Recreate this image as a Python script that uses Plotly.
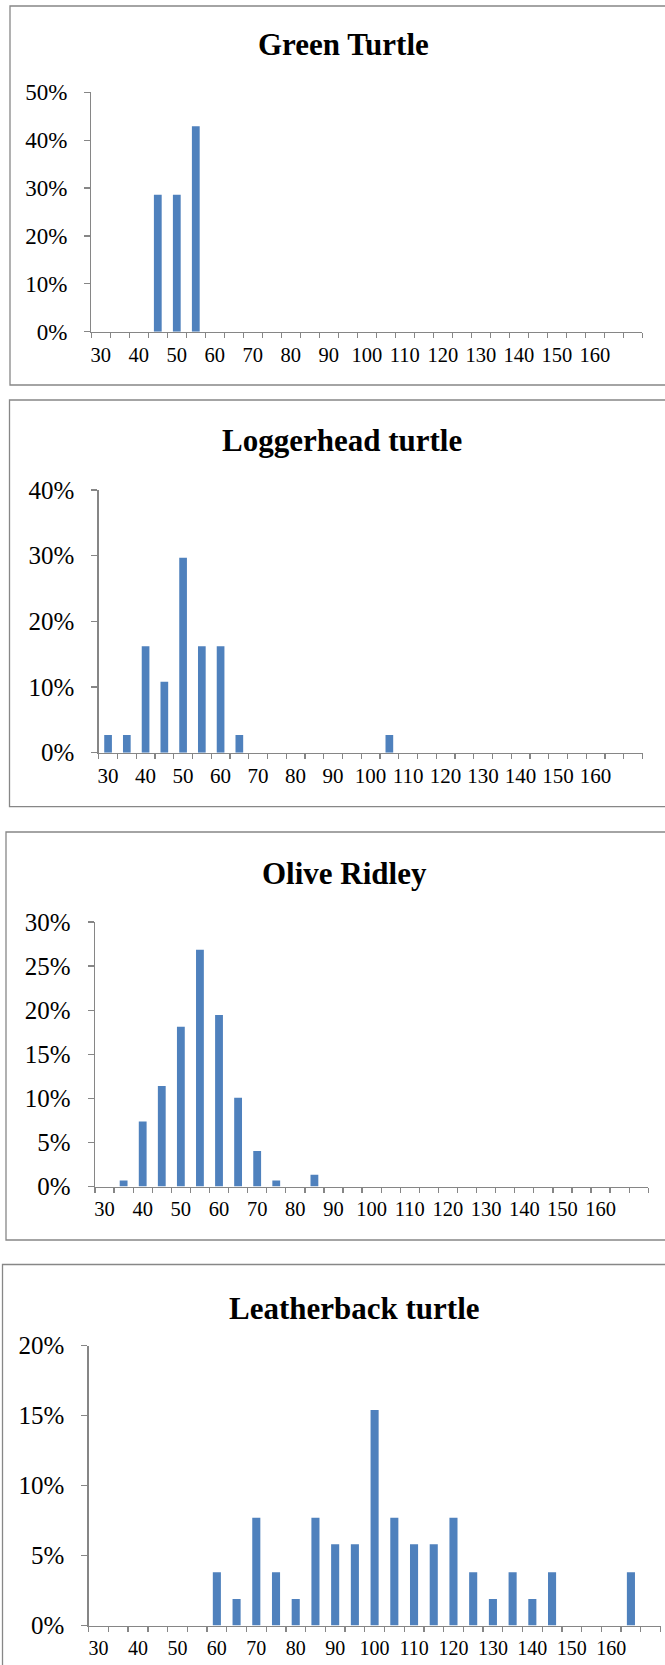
import plotly.graph_objects as go

W, H = 665, 1665

# Size classes (cm), one category every 5 cm
bins = [30, 35, 40, 45, 50, 55, 60, 65, 70, 75, 80, 85, 90, 95, 100, 105, 110,
        115, 120, 125, 130, 135, 140, 145, 150, 155, 160, 165, 170]
tick_labels = [30, 40, 50, 60, 70, 80, 90, 100, 110, 120, 130, 140, 150, 160]

green = [0, 0, 0, 0.286, 0.286, 0.429, 0, 0, 0, 0, 0, 0, 0, 0, 0, 0, 0,
         0, 0, 0, 0, 0, 0, 0, 0, 0, 0, 0, 0]
loggerhead = [0.027, 0.027, 0.162, 0.108, 0.297, 0.162, 0.162, 0.027, 0, 0, 0, 0, 0, 0, 0, 0.027, 0,
              0, 0, 0, 0, 0, 0, 0, 0, 0, 0, 0, 0]
olive = [0, 0.0067, 0.0738, 0.1141, 0.1812, 0.2685, 0.1946, 0.1007, 0.0403, 0.0067, 0, 0.0134, 0, 0, 0, 0, 0,
         0, 0, 0, 0, 0, 0, 0, 0, 0, 0, 0, 0]
leatherback = [0, 0, 0, 0, 0, 0, 0.038, 0.019, 0.077, 0.038, 0.019, 0.077, 0.058, 0.058, 0.154, 0.077, 0.058,
               0.058, 0.077, 0.038, 0.019, 0.038, 0.019, 0.038, 0, 0, 0, 0.038, 0]

titles = ["Green Turtle", "Loggerhead turtle", "Olive Ridley", "Leatherback turtle"]
series = [green, loggerhead, olive, leatherback]
y_max = [0.5, 0.4, 0.3, 0.2]
y_step = [0.1, 0.1, 0.05, 0.05]

# layout geometry in pixels: plot x0, x1, y_top, y_bottom ; box x0, y0, y1 ; title x, y ; fonts
plots = [(91.3, 642.3, 92.3, 331.7), (98.7, 642.5, 490, 752.7),
         (95, 648.3, 922, 1186.5), (88.7, 660.5, 1345.7, 1625.5)]
boxes = [(10, 6, 385), (9.5, 400, 806.7), (6, 832, 1240), (2.5, 1264.5, 1670)]
title_pos = [(343, 44), (342, 441), (344, 873), (354, 1308)]
ytick_size = [23, 25, 25, 25]
xtick_size = [20.5, 21, 20.5, 20]

BAR = "#4F81BD"
AXC = "#868686"
FONT = "Liberation Serif, Times New Roman, serif"

fig = go.Figure()
for i in range(4):
    xa = "x" if i == 0 else f"x{i+1}"
    ya = "y" if i == 0 else f"y{i+1}"
    fig.add_trace(go.Bar(x=bins, y=series[i], xaxis=xa, yaxis=ya, width=2.05,
                         marker=dict(color=BAR, line=dict(width=0)), showlegend=False))
    px0, px1, pyt, pyb = plots[i]
    xk = "xaxis" if i == 0 else f"xaxis{i+1}"
    yk = "yaxis" if i == 0 else f"yaxis{i+1}"
    fig.layout[xk] = dict(
        domain=[px0 / W, px1 / W], anchor=ya, range=[27.5, 172.5], automargin=False,
        tickmode="array", tickvals=tick_labels, ticktext=[str(t) for t in tick_labels],
        ticks="", showline=True, linecolor=AXC, linewidth=1.3, showgrid=False, zeroline=False,
        tickfont=dict(family=FONT, size=xtick_size[i], color="#000"),
        ticklabelstandoff=4,
        minor=dict(tickmode="linear", tick0=27.5, dtick=5, ticks="outside", ticklen=5,
                   tickcolor=AXC, tickwidth=1.3, showgrid=False),
        fixedrange=True,
    )
    fig.layout[yk] = dict(
        domain=[1 - pyb / H, 1 - pyt / H], anchor=xa, range=[0, y_max[i]], automargin=False,
        tickmode="linear", tick0=0, dtick=y_step[i], tickformat=".0%",
        ticks="outside", ticklen=6, tickcolor=AXC, tickwidth=1.3,
        showline=True, linecolor=AXC, linewidth=1.3, showgrid=False, zeroline=False,
        tickfont=dict(family=FONT, size=ytick_size[i], color="#000"),
        ticklabelstandoff=12,
        fixedrange=True,
    )
    bx0, by0, by1 = boxes[i]
    fig.add_shape(type="rect", xref="paper", yref="paper",
                  x0=bx0 / W, x1=(W + 4) / W, y0=1 - by1 / H, y1=1 - by0 / H,
                  line=dict(color="#878787", width=1.3), fillcolor="rgba(0,0,0,0)")
    tx, ty = title_pos[i]
    fig.add_annotation(text=f"<b>{titles[i]}</b>", xref="paper", yref="paper",
                       x=tx / W, y=1 - ty / H, xanchor="center", yanchor="middle",
                       showarrow=False, font=dict(family=FONT, size=31, color="#000"))

fig.update_layout(width=W, height=H, margin=dict(l=0, r=0, t=0, b=0, autoexpand=False),
                  paper_bgcolor="white", plot_bgcolor="white", bargap=0.6)
fig.write_html("out.html", config={"displayModeBar": False, "staticPlot": True},
               post_script="document.body.style.margin='0';document.body.style.overflow='hidden';")
